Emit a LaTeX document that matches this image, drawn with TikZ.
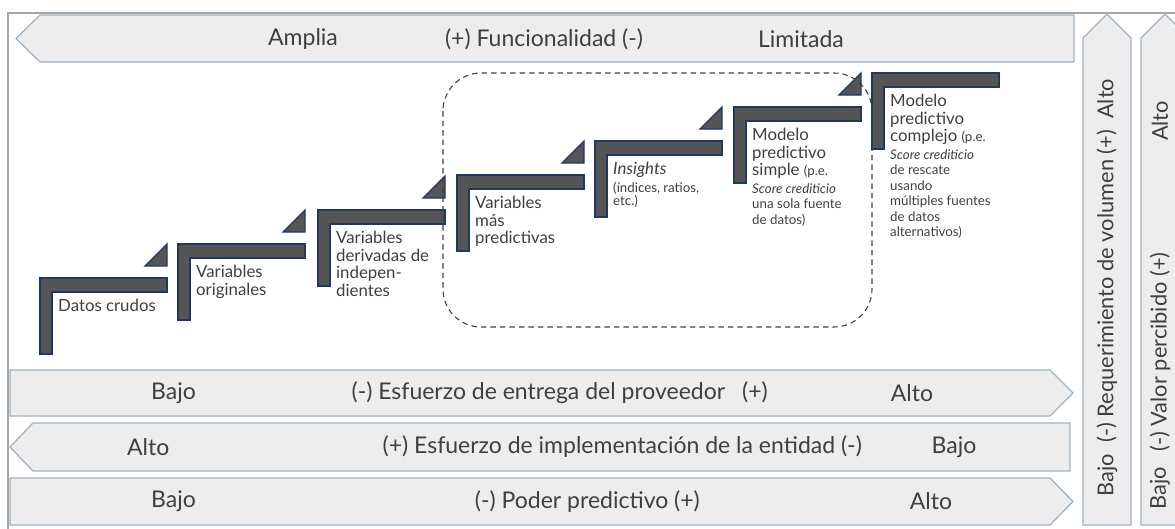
\documentclass[tikz,border=0pt]{standalone}
\usepackage{fontspec}
\setmainfont{Lato}
\definecolor{txtc}{HTML}{3F3F3F}
\definecolor{framec}{HTML}{A6A6A6}
\definecolor{barfill}{HTML}{EDEDED}
\definecolor{barline}{HTML}{9FB3C3}
\definecolor{stepfill}{HTML}{555555}
\definecolor{stepline}{HTML}{1F3864}
\definecolor{dashc}{HTML}{404040}
\newcommand\fsA{\fontsize{23}{27}\selectfont}
\newcommand\fsV{\fontsize{21.8}{25}\selectfont}
\newcommand\fsM{\fontsize{16.8}{17.5}\selectfont}
\newcommand\fsS{\fontsize{13.3}{15}\selectfont}
\tikzset{
  arrowbox/.style={draw=barline, fill=barfill, line width=1.3pt, line join=miter},
  bartext/.style={font=\fsA, text=txtc, inner sep=0pt, anchor=center},
  vtext/.style={font=\fsV, text=txtc, inner sep=0pt, anchor=center, rotate=90},
  stepshape/.style={draw=stepline, fill=stepfill, line width=1.3pt, line join=miter},
  steptext/.style={font=\fsM, text=txtc, inner sep=0pt, anchor=north west, align=left},
  dashbox/.style={draw=dashc, line width=1.1pt, dash pattern=on 5.5pt off 4pt, rounded corners=38pt}
}
\begin{document}
\begin{tikzpicture}[x=1pt,y=-1pt]
\useasboundingbox (0,0) rectangle (1175,528);
\clip (0,0) rectangle (1175,528);
% outer frame
\draw[framec, line width=2pt] (8,530) -- (8,13) -- (1177,13);
% top arrow (left pointing)
\draw[arrowbox] (40,15) -- (1074,15) -- (1074,62) -- (40,62) -- (16,38.5) -- cycle;
\node[bartext] (amplia) at (303,39) {Amplia};
\node[bartext] (func) at (544,39) {(+) Funcionalidad (-)};
\node[bartext] (limit) at (801,39) {Limitada};
% row 1 (right pointing)
\draw[arrowbox] (10,370) -- (1050,370) -- (1073,393) -- (1050,416) -- (10,416) -- cycle;
\node[bartext, anchor=west] (r1a) at (151,393) {Bajo};
\node[bartext, anchor=east] (r1b) at (768,393) {(-) Esfuerzo de entrega del proveedor\hspace{17pt}(+)};
\node[bartext] (r1c) at (912,393) {Alto};
% row 2 (left pointing)
\draw[arrowbox] (33,423) -- (1070,423) -- (1070,471) -- (33,471) -- (10,447) -- cycle;
\node[bartext, anchor=west] (r2a) at (127,447) {Alto};
\node[bartext, anchor=east] (r2b) at (862,447) {(+) Esfuerzo de implementación de la entidad (-)};
\node[bartext] (r2c) at (954,447) {Bajo};
% row 3 (right pointing)
\draw[arrowbox] (10,478) -- (1050,478) -- (1073,501.5) -- (1050,525) -- (10,525) -- cycle;
\node[bartext, anchor=west] (r3a) at (151,501.5) {Bajo};
\node[bartext, anchor=east] (r3b) at (700,501.5) {(-) Poder predictivo (+)};
\node[bartext] (r3c) at (931,501.5) {Alto};
% vertical arrows (up pointing)
\draw[arrowbox] (1083,38) -- (1107,14) -- (1131,38) -- (1131,525) -- (1083,525) -- cycle;
\node[vtext] (v1) at (1107,287.5) {Bajo\ \ (-) Requerimiento de volumen (+)\ \ Alto};
\draw[arrowbox] (1141,38) -- (1165,14) -- (1189,38) -- (1189,525) -- (1141,525) -- cycle;
\node[vtext] (v2a) at (1160,121) {Alto};
\node[vtext] (v2b) at (1160,352) {(-) Valor percibido (+)};
\node[vtext] (v2c) at (1160,488) {Bajo};
% steps
\foreach \L/\T in {40/278, 178/244, 318/210, 457/175, 595/141, 734/107, 872/73}{
  \draw[stepshape] (\L,\T) -- ({\L+127},\T) -- ({\L+127},{\T+14}) -- ({\L+12},{\T+14})
     -- ({\L+12},{\T+76}) -- (\L,{\T+76}) -- cycle;
}
\foreach \R/\B in {167/266, 305/232, 445/198, 584/163, 722/129, 861/95}{
  \draw[stepshape] ({\R-22},\B) -- (\R,\B) -- (\R,{\B-22}) -- cycle;
}
\node[steptext] (s1) at (58,299) {Datos crudos};
\node[steptext] (s2) at (196,265) {Variables\\originales};
\node[steptext] (s3) at (336,231) {Variables\\derivadas de\\indepen-\\dientes};
\node[steptext] (s4) at (475,196) {Variables\\más\\predictivas};
\node[steptext] (s5) at (613,162) {\textit{Insights}\\{\fsS (índices, ratios,}\\[-4pt]{\fsS etc.)}};
\node[steptext] (s6) at (752,128) {Modelo\\predictivo\\simple {\fsS (p.e.}\\{\fsS\itshape Score crediticio}\\[-2pt]{\fsS una sola fuente}\\[-2pt]{\fsS de datos)}};
\node[steptext] (s7) at (890,94) {Modelo\\predictivo\\complejo {\fsS (p.e.}\\{\fsS\itshape Score crediticio}\\[-2pt]{\fsS de rescate}\\[-2pt]{\fsS usando}\\[-2pt]{\fsS múltiples fuentes}\\[-2pt]{\fsS de datos}\\[-2pt]{\fsS alternativos)}};
% dashed grouping box
\draw[dashbox] (443,73) rectangle (872,327);
\end{tikzpicture}
\end{document}
